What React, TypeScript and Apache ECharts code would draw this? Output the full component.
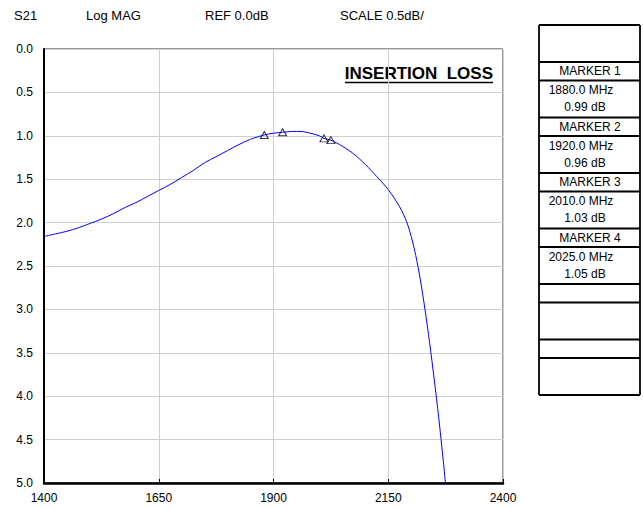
import React, { useEffect, useRef } from 'react';
import * as echarts from 'echarts';

// ---- data ----
const headerLabels = ['S21', 'Log MAG', 'REF 0.0dB', 'SCALE 0.5dB/'];
const chartTitle = 'INSERTION  LOSS';
const freqMHz = [1400, 1425, 1450, 1475, 1500, 1525, 1550, 1575, 1600, 1625, 1650, 1675, 1700, 1725, 1750, 1775, 1800, 1825, 1850, 1880, 1900, 1920, 1940, 1960, 1980, 2000, 2010, 2025, 2050, 2075, 2100, 2125, 2150, 2175, 2190, 2200, 2210, 2220, 2230, 2240, 2250, 2260, 2270, 2275];
const lossDb = [2.16, 2.13, 2.10, 2.06, 2.01, 1.96, 1.90, 1.83, 1.77, 1.70, 1.63, 1.56, 1.48, 1.40, 1.31, 1.24, 1.17, 1.10, 1.04, 0.99, 0.97, 0.96, 0.95, 0.95, 0.97, 1.00, 1.03, 1.05, 1.12, 1.21, 1.33, 1.47, 1.62, 1.82, 1.99, 2.16, 2.38, 2.66, 3.00, 3.38, 3.80, 4.25, 4.75, 5.02];
const markerNames = ['MARKER 1', 'MARKER 2', 'MARKER 3', 'MARKER 4'];
const markerFreq = [1880, 1920, 2010, 2025];
const markerLoss = [0.99, 0.96, 1.03, 1.05];
const xTicks = [1400, 1650, 1900, 2150, 2400];
const yTicks = [0, 0.5, 1, 1.5, 2, 2.5, 3, 3.5, 4, 4.5, 5];

const FONT = '"Liberation Sans", Arial, sans-serif';

export default function App() {
  const ref = useRef<HTMLDivElement>(null);
  useEffect(() => {
    document.body.style.margin = '0';
    const chart = echarts.init(ref.current!, null, { renderer: 'svg' });

    const gridL = 44, gridT = 49, gridW = 459, gridH = 434;

    const graphics: any[] = [];
    const headerX = [14, 86, 205, 340];
    headerLabels.forEach((t, i) => {
      graphics.push({
        type: 'text', x: headerX[i], y: 15,
        style: { text: t, font: `13px ${FONT}`, fill: '#000', textVerticalAlign: 'middle' },
      });
    });
    // title
    graphics.push({
      type: 'text', x: 493, y: 73,
      style: { text: chartTitle, font: `bold 17px ${FONT}`, fill: '#000', textAlign: 'right', textVerticalAlign: 'middle' },
    });
    graphics.push({ type: 'line', shape: { x1: 345, y1: 82.5, x2: 493, y2: 82.5 }, style: { stroke: '#000', lineWidth: 1.3 } });

    // table
    const tL = 539, tR = 640, tTop = 25;
    const T = 37, L = 18.5;
    const rowH = [T, L, T, L, T, L, T, L, T, L, T, L, T];
    const bounds: number[] = [tTop];
    rowH.forEach((h) => bounds.push(bounds[bounds.length - 1] + h));
    bounds.forEach((y) => {
      graphics.push({ type: 'line', shape: { x1: tL, y1: y, x2: tR, y2: y }, style: { stroke: '#000', lineWidth: 1.8 } });
    });
    const tBottom = bounds[bounds.length - 1];
    graphics.push({ type: 'line', shape: { x1: tL, y1: tTop, x2: tL, y2: tBottom }, style: { stroke: '#000', lineWidth: 1.8 } });
    graphics.push({ type: 'line', shape: { x1: tR, y1: tTop, x2: tR, y2: tBottom }, style: { stroke: '#000', lineWidth: 1.8 } });
    markerNames.forEach((name, i) => {
      const labelTop = bounds[1 + i * 2];
      const dataTop = bounds[2 + i * 2];
      graphics.push({
        type: 'text', x: 590, y: labelTop + L / 2,
        style: { text: name, font: `12px ${FONT}`, fill: '#000', textAlign: 'center', textVerticalAlign: 'middle' },
      });
      graphics.push({
        type: 'text', x: 581, y: dataTop + 9.5,
        style: { text: `${markerFreq[i].toFixed(1)} MHz`, font: `12px ${FONT}`, fill: '#000', textAlign: 'center', textVerticalAlign: 'middle' },
      });
      graphics.push({
        type: 'text', x: 585, y: dataTop + 26.5,
        style: { text: `${markerLoss[i].toFixed(2)} dB`, font: `12px ${FONT}`, fill: '#000', textAlign: 'center', textVerticalAlign: 'middle' },
      });
    });

    const option: any = {
      animation: false,
      backgroundColor: '#fff',
      textStyle: { fontFamily: FONT },
      grid: { left: gridL, top: gridT, width: gridW, height: gridH, show: true, borderColor: '#333', borderWidth: 1, backgroundColor: 'transparent' },
      xAxis: {
        type: 'value', min: xTicks[0], max: xTicks[xTicks.length - 1], interval: xTicks[1] - xTicks[0],
        axisLine: { show: true, lineStyle: { color: '#000', width: 2.5 }, onZero: false },
        axisTick: { show: true, inside: true, length: 4, lineStyle: { color: '#000', width: 1 } },
        splitLine: { show: true, lineStyle: { color: '#cfcfcf', width: 1 } },
        axisLabel: { color: '#000', fontSize: 12, fontFamily: FONT, margin: 9, showMinLabel: true, showMaxLabel: true, formatter: (v: number) => String(v) },
      },
      yAxis: {
        type: 'value', inverse: true, min: yTicks[0], max: yTicks[yTicks.length - 1], interval: yTicks[1] - yTicks[0],
        axisLine: { show: true, lineStyle: { color: '#000', width: 2 }, onZero: false },
        axisTick: { show: false },
        splitLine: { show: true, lineStyle: { color: '#cfcfcf', width: 1 } },
        axisLabel: { color: '#000', fontSize: 12, fontFamily: FONT, margin: 11, formatter: (v: number) => v.toFixed(1) },
      },
      series: [
        {
          type: 'line', data: freqMHz.map((f, i) => [f, lossDb[i]]), showSymbol: false, smooth: 0.3,
          lineStyle: { color: '#0000ff', width: 1 }, silent: true, clip: true,
        },
        {
          type: 'scatter', data: markerFreq.map((f, i) => [f, markerLoss[i]]), symbol: 'triangle', symbolSize: [8, 7],
          itemStyle: { color: 'rgba(255,255,255,0)', borderColor: '#000', borderWidth: 1 }, silent: true,
        },
      ],
      graphic: graphics,
    };
    chart.setOption(option);
    return () => chart.dispose();
  }, []);
  return <div ref={ref} style={{ position: 'fixed', left: 0, top: 0, width: 643, height: 509 }} />;
}
